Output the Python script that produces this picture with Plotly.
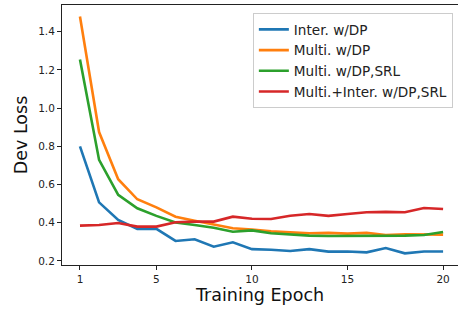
import plotly.graph_objects as go

epochs = list(range(1, 21))
inter_dp = [0.80, 0.507, 0.415, 0.368, 0.368, 0.305, 0.314, 0.275, 0.298, 0.262,
            0.259, 0.252, 0.262, 0.249, 0.250, 0.245, 0.268, 0.240, 0.250, 0.250]
multi_dp = [1.48, 0.875, 0.628, 0.523, 0.481, 0.432, 0.411, 0.392, 0.371, 0.365,
            0.355, 0.350, 0.345, 0.347, 0.343, 0.347, 0.336, 0.340, 0.340, 0.338]
multi_dp_srl = [1.255, 0.729, 0.546, 0.476, 0.436, 0.401, 0.388, 0.374, 0.353, 0.360,
                0.345, 0.338, 0.333, 0.331, 0.331, 0.333, 0.333, 0.333, 0.336, 0.352]
multi_inter = [0.385, 0.388, 0.399, 0.380, 0.380, 0.403, 0.406, 0.406, 0.432, 0.421,
               0.420, 0.437, 0.446, 0.436, 0.446, 0.455, 0.457, 0.455, 0.477, 0.472]

names = ["Inter. w/DP", "Multi. w/DP", "Multi. w/DP,SRL", "Multi.+Inter. w/DP,SRL"]
colors = ["#1f77b4", "#ff7f0e", "#2ca02c", "#d62728"]
series = [inter_dp, multi_dp, multi_dp_srl, multi_inter]
x_ticks = [1, 5, 10, 15, 20]
y_ticks = [0.2, 0.4, 0.6, 0.8, 1.0, 1.2, 1.4]

fig = go.Figure()
for n, c, s in zip(names, colors, series):
    fig.add_trace(go.Scatter(x=epochs, y=s, mode="lines", name=n,
                             line=dict(color=c, width=2.6)))

font = "DejaVu Sans, sans-serif"
fig.update_layout(
    width=458, height=309,
    margin=dict(l=62, r=0, t=5, b=44),
    paper_bgcolor="white", plot_bgcolor="white",
    font=dict(family=font, color="#222"),
    showlegend=True,
    legend=dict(x=0.987, y=0.969, xanchor="right", yanchor="top",
                bgcolor="rgba(255,255,255,0.9)", bordercolor="#cccccc", borderwidth=1,
                font=dict(size=13.6, family=font, color="#222"),
                tracegroupgap=0, itemwidth=30),
    xaxis=dict(range=[0.06, 20.78], tickvals=x_ticks, ticktext=[str(t) for t in x_ticks],
               showgrid=False, zeroline=False, showline=True, mirror=True,
               linecolor="#222", linewidth=1, ticks="outside", ticklen=4, tickcolor="#222",
               tickfont=dict(size=10.5, family=font, color="#222"),
               title=dict(text="Training Epoch", font=dict(size=17.5, family=font, color="#111"),
                          standoff=4)),
    yaxis=dict(range=[0.179, 1.540], tickvals=y_ticks, ticktext=["%.1f" % v for v in y_ticks],
               showgrid=False, zeroline=False, showline=True, mirror=True,
               linecolor="#222", linewidth=1, ticks="outside", ticklen=4, tickcolor="#222",
               tickfont=dict(size=10.5, family=font, color="#222"),
               title=dict(text="Dev Loss", font=dict(size=17.5, family=font, color="#111"),
                          standoff=6)),
)

fig.write_html("out.html", config={"displayModeBar": False},
               post_script="document.body.style.margin='0';document.body.style.overflow='hidden';")
